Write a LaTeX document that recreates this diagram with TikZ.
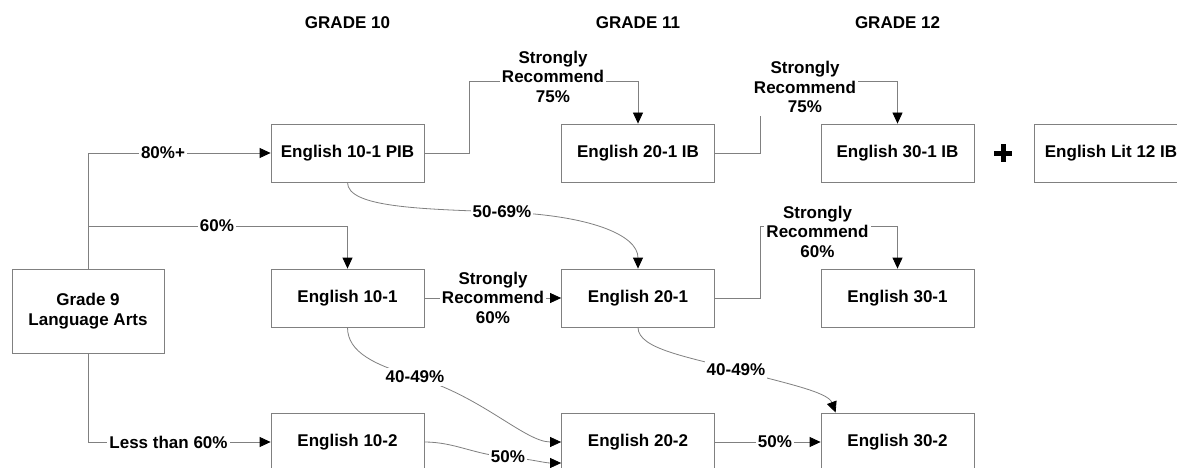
\documentclass[tikz,border=0pt]{standalone}
\usepackage{fontspec}
\setmainfont{Liberation Sans}
\usetikzlibrary{arrows.meta,calc}
\definecolor{lg}{RGB}{128,128,128}
\newcommand{\mybf}{\fontsize{17}{19.5}\selectfont\bfseries}
\begin{document}
\begin{tikzpicture}[x=1pt,y=-1pt,
  box/.style={draw=lg, line width=0.8pt, minimum width=153pt, minimum height=58pt, inner sep=0pt, align=center, font=\mybf},
  lbl/.style={fill=white, inner xsep=2pt, inner ysep=3pt, align=center, font=\mybf},
  hdr/.style={font=\mybf, inner sep=0pt},
  conn/.style={draw=lg, line width=0.8pt},
  arr/.style={conn, -{Triangle[length=11pt,width=10pt,color=black]}}
]
\useasboundingbox (0,0) rectangle (1177,468);
\clip (0,0) rectangle (1177,468);
\fill[white] (0,0) rectangle (1177,468);

% headers
\node[hdr] (h10) at (347.5,23) {GRADE 10};
\node[hdr] (h11) at (638,23) {GRADE 11};
\node[hdr] (h12) at (897.5,23) {GRADE 12};

% boxes
\node[box, minimum width=152pt, minimum height=84pt] (g9) at (88,311) {Grade 9\\Language Arts};
\node[box] (pib)   at (347.5,153) {English 10-1 PIB};
\node[box] (e101)  at (347.5,298) {English 10-1};
\node[box] (e102)  at (347.5,442) {English 10-2};
\node[box] (ib201) at (638,153) {English 20-1 IB};
\node[box] (e201)  at (638,298) {English 20-1};
\node[box] (e202)  at (638,442) {English 20-2};
\node[box] (ib301) at (897.5,153) {English 30-1 IB};
\node[box] (e301)  at (897.5,298) {English 30-1};
\node[box] (e302)  at (897.5,442) {English 30-2};
\node[box] (lit)   at (1111,153) {English Lit 12 IB};

% plus sign
\node[minimum size=17pt, inner sep=0pt] (plus) at (1003,153) {};
\draw[line width=5pt] (plus.west) -- (plus.east) (plus.north) -- (plus.south);

% helper coordinates
\coordinate (j60) at (88,226);
\coordinate (b1) at (469,81);
\coordinate (b2) at (760,81);
\coordinate (b3) at (760,226);
\coordinate (c5069) at (502,212);
\coordinate (c4049a) at (415,377);
\coordinate (c50a) at (508,457);
\coordinate (c4049b) at (736,370);

% orthogonal connectors
\draw[arr] (g9.north) |- (pib.west);
\draw[arr] (j60) -| (e101.north);
\draw[arr] (g9.south) |- (e102.west);
\draw[arr] (pib.east) -| (b1) -| (ib201.north);
\draw[arr] (ib201.east) -| (b2) -| (ib301.north);
\draw[arr] (e201.east) -| (b3) -| (e301.north);
\draw[arr] (e101.east) -- (e201.west);
\draw[arr] (e202.east) -- (e302.west);

% curved connectors
\draw[arr] (pib.south) .. controls +(0,25) and (420,209) .. (c5069)
           .. controls (590,215) and (638,235) .. (e201.north);
\draw[arr] (e101.south) .. controls +(0,25) and (375,365) .. (c4049a)
           .. controls (480,395) and (525,442) .. (e202.west);
\draw[arr] (e102.east) .. controls (455,442) and (475,455) .. (c50a)
           .. controls (530,459) and (545,463) .. ([yshift=-21pt]e202.west);
\draw[arr] (e201.south) .. controls +(0,22) and (690,357) .. (c4049b)
           .. controls (785,383) and (828,392) .. ([xshift=15pt]e302.north west);

% labels
\node[lbl] (l80)   at (163,153) {80\%+};
\node[lbl] (l60)   at (217,226) {60\%};
\node[lbl] (lless) at (168.5,442) {Less than 60\%};
\node[lbl] (lsr1)  at (553,76.5) {Strongly\\Recommend\\75\%};
\node[lbl] (lsr2)  at (805,87) {Strongly\\Recommend\\75\%};
\node[lbl] (lsr3)  at (817.5,231.5) {Strongly\\Recommend\\60\%};
\node[lbl] (lsr4)  at (493,297.5) {Strongly\\Recommend\\60\%};
\node[lbl] (l5069) at (c5069) {50-69\%};
\node[lbl] (l4049a) at (c4049a) {40-49\%};
\node[lbl] (l50a)  at (c50a) {50\%};
\node[lbl] (l4049b) at (c4049b) {40-49\%};
\node[lbl] (l50b)  at (775,442) {50\%};
\end{tikzpicture}
\end{document}
